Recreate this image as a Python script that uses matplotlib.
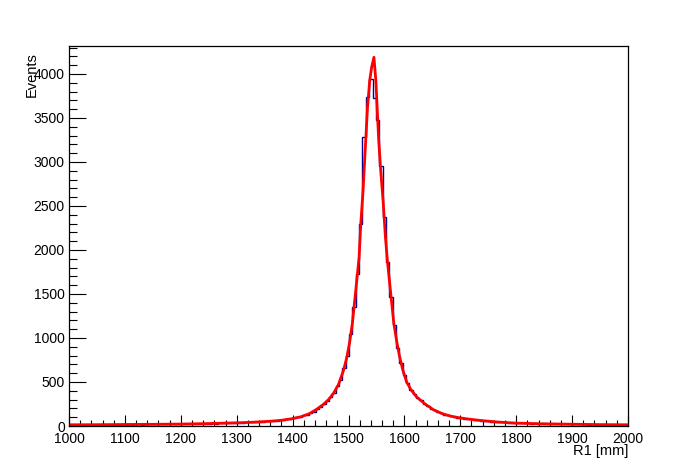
"""R1 distribution with fitted peak, ROOT-like styling"""
import numpy as np
import matplotlib
matplotlib.use("Agg")
import matplotlib.pyplot as plt
from matplotlib.ticker import MultipleLocator

# histogram binning (6 mm bins)
bin_lo = 997
bin_w = 6

# bin contents, centers 1000, 1006, ... 2002
counts_a = [13, 15, 12, 16, 14, 13, 17, 15, 14, 16, 18, 13, 15, 17, 16, 14, 18]        # 1000-1096
counts_b = [17, 19, 16, 18, 20, 17, 19, 21, 18, 20, 19, 22, 20, 18, 21, 23, 19]        # 1102-1198
counts_c = [18, 24, 22, 25, 23, 27, 26, 24, 28, 30, 27, 31, 29, 33, 32, 35, 34]        # 1204-1300
counts_d = [38, 37, 41, 40, 44, 46, 45, 50, 53, 52, 57, 61, 64, 68, 74, 80]            # 1306-1396
counts_e = [86, 97, 103, 120, 128, 148, 163, 195, 216, 252, 283, 335, 375, 450, 525,
            655, 790]                                                                  # 1402-1498
counts_f = [1040, 1350, 1730, 2290, 3281, 3735, 3940, 3724, 3480, 2950, 2380, 1860,
            1470, 1150, 890, 720, 575]                                                 # 1504-1600
counts_g = [485, 405, 362, 318, 290, 250, 228, 198, 182, 158, 147, 130, 122, 110, 104,
            95, 91]                                                                    # 1606-1702
counts_h = [84, 79, 75, 70, 66, 61, 59, 54, 51, 48, 45, 43, 40, 38, 36, 34, 33]        # 1708-1804
counts_i = [31, 32, 29, 28, 29, 26, 27, 25, 24, 25, 22, 23, 21, 22, 20, 21, 19]        # 1810-1906
counts_j = [20, 18, 19, 17, 18, 16, 17, 15, 16, 15, 14, 16, 14, 15, 13, 14]            # 1912-2002

# fit curve
fit_x = [1000, 1050, 1100, 1150, 1200, 1250, 1300, 1330, 1360, 1380, 1400, 1415, 1430,
         1443, 1455, 1465, 1473, 1482, 1491, 1497, 1502, 1507, 1513, 1519, 1522, 1526,
         1530, 1534, 1538, 1541.5, 1545.5, 1549, 1551, 1554, 1558, 1562, 1566, 1570, 1575,
         1581, 1586, 1591, 1597, 1604, 1612, 1622, 1637, 1652, 1667, 1682, 1697, 1711,
         1726, 1741, 1765, 1785, 1800, 1840, 1900, 1950, 2000]
fit_y = [14, 15, 17, 19, 22, 28, 36, 43, 54, 65, 84, 105, 140,
         190, 245, 305, 370, 470, 630, 780, 950, 1170, 1540, 1920, 2300, 2670,
         3150, 3620, 3930, 4080, 4190, 3920, 3650, 3250, 2870, 2550, 2150, 1850, 1540,
         1170, 970, 800, 640, 500, 410, 330, 250, 185, 142, 113, 95, 82,
         70, 60, 46, 38, 33, 26, 20, 16, 14]

counts = np.array(counts_a + counts_b + counts_c + counts_d + counts_e +
                  counts_f + counts_g + counts_h + counts_i + counts_j)
edges = bin_lo + bin_w * np.arange(len(counts) + 1)

fig = plt.figure(figsize=(6.98, 4.74), dpi=100)
ax = fig.add_axes([69 / 698, 48 / 474, 559 / 698, 380 / 474])

ax.stairs(counts, edges, color='#000099', lw=1.0)
ax.plot(fit_x, fit_y, color='red', lw=2.0)

ax.set_xlim(1000, 2000)
ax.set_ylim(0, 4318)

ax.xaxis.set_major_locator(MultipleLocator(100))
ax.xaxis.set_minor_locator(MultipleLocator(20))
ax.yaxis.set_major_locator(MultipleLocator(500))
ax.yaxis.set_minor_locator(MultipleLocator(100))

ax.tick_params(axis='both', which='both', direction='in', top=False, right=False,
               width=0.8, labelsize=10, labelfontfamily='Liberation Sans')
ax.tick_params(axis='x', which='major', length=8.2, pad=4)
ax.tick_params(axis='x', which='minor', length=4.1)
ax.tick_params(axis='y', which='major', length=12.2, pad=3)
ax.tick_params(axis='y', which='minor', length=6.1)
for s in ax.spines.values():
    s.set_linewidth(0.9)

ax.text(1.0, -0.048, 'R1 [mm]', transform=ax.transAxes, ha='right', va='top',
        fontsize=10.5, family='Liberation Sans')
ax.text(-0.055, 0.985, 'Events', transform=ax.transAxes, ha='right', va='top',
        rotation=90, fontsize=10.5, family='Liberation Sans')

plt.savefig('out.png', dpi=100)
plt.close('all')
